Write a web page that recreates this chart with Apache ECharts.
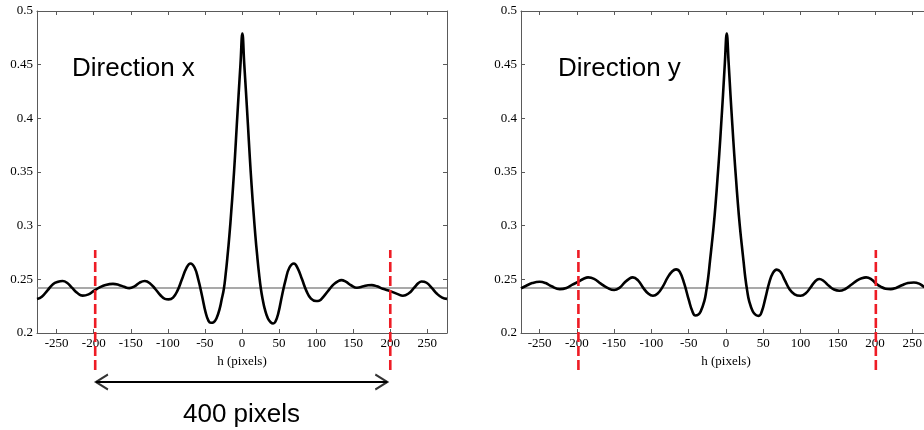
<!DOCTYPE html>
<html>
<head>
<meta charset="utf-8">
<script src="https://cdn.jsdelivr.net/npm/echarts@6/dist/echarts.min.js"></script>
<style>html,body{margin:0;padding:0;background:#fff}#c{width:924px;height:430px}</style>
</head>
<body>
<div id="c"></div>
<script>
// ---- data ----
const xTicks = [-250, -200, -150, -100, -50, 0, 50, 100, 150, 200, 250];
const yMin = 0.2, yMax = 0.5, yStep = 0.05;
const xRangeX = [-276.5, 276.5];
const xRangeY = [-275, 275];
const baseLevel = 0.242;
// Direction x curve: [h, value]
const curveX = [[-276.5,0.2316],[-270,0.2338],[-262,0.2400],[-255,0.2455],[-248,0.2478],[-242,0.2484],[-236,0.2468],[-229,0.2420],[-222,0.2372],[-215,0.2348],[-207,0.2360],[-200,0.2392],[-192,0.2425],[-184,0.2448],[-174,0.2458],[-166,0.2448],[-159,0.2430],[-152,0.2418],[-145,0.2435],[-138,0.2470],[-131,0.2484],[-124,0.2462],[-117,0.2410],[-110,0.2352],[-104,0.2318],[-99,0.2313],[-93,0.2330],[-87,0.2395],[-81,0.2500],[-75,0.2605],[-69.5,0.2648],[-64,0.2610],[-59,0.2500],[-54,0.2350],[-49,0.2190],[-45,0.2110],[-42,0.2095],[-38.5,0.2100],[-34.5,0.2135],[-30,0.2230],[-27.5,0.2310],[-24.5,0.2410],[-22,0.2550],[-19.5,0.2720],[-17,0.2910],[-14.5,0.3130],[-12,0.3370],[-9.5,0.3640],[-7,0.3940],[-4.5,0.4230],[-2,0.4510],[0.5,0.4790],[3,0.4510],[5.5,0.4230],[8,0.3940],[10.5,0.3640],[13,0.3370],[15.5,0.3130],[18,0.2910],[20.5,0.2720],[23,0.2550],[25.5,0.2410],[28,0.2310],[30.5,0.2230],[35,0.2135],[39,0.2098],[42,0.2089],[45,0.2105],[49,0.2185],[54,0.2350],[59,0.2500],[64,0.2610],[70,0.2648],[75,0.2605],[81,0.2500],[87,0.2390],[93,0.2320],[100,0.2298],[104,0.2300],[110,0.2340],[117,0.2400],[124,0.2455],[130,0.2484],[134,0.2493],[140,0.2478],[147,0.2445],[155,0.2422],[164,0.2435],[170,0.2445],[175,0.2446],[182,0.2435],[190,0.2412],[200,0.2390],[210,0.2362],[217,0.2347],[225,0.2370],[232,0.2420],[238,0.2465],[242,0.2480],[249,0.2468],[256,0.2420],[263,0.2365],[270,0.2330],[276.5,0.2318]];
// Direction y curve: [h, value]
const curveY = [[-275,0.2415],[-268,0.2440],[-260,0.2465],[-250,0.2477],[-242,0.2465],[-234,0.2435],[-223,0.2409],[-214,0.2420],[-206,0.2450],[-198,0.2478],[-191,0.2505],[-185,0.2518],[-177,0.2505],[-168,0.2460],[-159,0.2420],[-150,0.2400],[-143,0.2420],[-136,0.2470],[-130,0.2505],[-125,0.2518],[-118,0.2490],[-111,0.2420],[-104,0.2365],[-98,0.2347],[-92,0.2365],[-85,0.2430],[-78,0.2520],[-72,0.2575],[-67,0.2593],[-62,0.2570],[-56,0.2460],[-50,0.2310],[-45,0.2200],[-41,0.2163],[-37,0.2172],[-34,0.2200],[-29,0.2300],[-26.5,0.2390],[-24,0.2510],[-21.5,0.2670],[-19,0.2830],[-16.5,0.3000],[-14,0.3200],[-11.5,0.3430],[-9,0.3670],[-6.5,0.3940],[-4,0.4220],[-1.5,0.4520],[1,0.4790],[3.5,0.4520],[6,0.4220],[8.5,0.3940],[11,0.3670],[13.5,0.3430],[16,0.3200],[18.5,0.3000],[21,0.2830],[23.5,0.2670],[26,0.2510],[28.5,0.2390],[31,0.2300],[36,0.2200],[40,0.2168],[44,0.2160],[48,0.2200],[53,0.2330],[58,0.2470],[63,0.2560],[68,0.2590],[73,0.2570],[79,0.2490],[85,0.2410],[92,0.2360],[100,0.2347],[107,0.2370],[114,0.2430],[120,0.2485],[125,0.2503],[131,0.2485],[138,0.2440],[145,0.2405],[152,0.2393],[160,0.2410],[168,0.2450],[176,0.2490],[182,0.2510],[188,0.2518],[195,0.2500],[201,0.2462],[208,0.2430],[214,0.2413],[221,0.2409],[228,0.2420],[236,0.2445],[244,0.2465],[252,0.2471],[259,0.2460],[266,0.2430],[272,0.2410],[275,0.2405]];
// red dashed markers (h positions) and their vertical span in overlay units (0 = bottom, 1 = top)
const redX = [-198, 200];
const redY = [-198, 201];
const redSpan = [0.2, 1];
// double arrow under the left chart
const arrowEnds = [-197, 196];
const arrowLevel = 0.12;
const titles = ['Direction x', 'Direction y', '400 pixels'];
const xName = 'h (pixels)';

// ---- chart ----
const serif = 'Liberation Serif, Times New Roman, serif';
const sans = 'Liberation Sans, Arial, sans-serif';
const frame = '#5a5a5a';

function mainX(gi, range, bottom) {
  return {
    gridIndex: gi, type: 'value', min: range[0], max: range[1], position: bottom ? 'bottom' : 'top',
    name: bottom ? xName : '', nameLocation: 'middle', nameGap: 19,
    nameTextStyle: {fontFamily: serif, fontSize: 13, color: '#000'},
    axisLine: {show: true, onZero: false, lineStyle: {color: frame, width: 1}},
    axisTick: {show: true, inside: true, length: 4, customValues: xTicks, lineStyle: {color: frame}},
    axisLabel: {show: bottom, customValues: xTicks, margin: 4, fontFamily: serif, fontSize: 13, color: '#000'},
    splitLine: {show: false}
  };
}
function mainY(gi, left) {
  return {
    gridIndex: gi, type: 'value', min: yMin, max: yMax, interval: yStep, position: left ? 'left' : 'right',
    axisLine: {show: true, onZero: false, lineStyle: {color: frame, width: 1}},
    axisTick: {show: true, inside: true, length: 4, lineStyle: {color: frame}},
    axisLabel: {show: left, margin: 4, fontFamily: serif, fontSize: 13, color: '#000',
      formatter: v => String(parseFloat(v.toFixed(2)))},
    splitLine: {show: false}
  };
}
function hiddenX(gi, range) {
  return {gridIndex: gi, type: 'value', min: range[0], max: range[1], show: false};
}
function hiddenY(gi) {
  return {gridIndex: gi, type: 'value', min: 0, max: 1, show: false};
}

const chevL = 'path://M12,0 L0,7.5 L12,15';
const chevR = 'path://M0,0 L12,7.5 L0,15';

const series = [
  {type: 'line', xAxisIndex: 0, yAxisIndex: 0, data: [[xRangeX[0], baseLevel], [xRangeX[1], baseLevel]],
    showSymbol: false, silent: true, lineStyle: {color: '#8c8c8c', width: 1.5}, z: 2},
  {type: 'line', xAxisIndex: 0, yAxisIndex: 0, data: curveX, smooth: 0.45, showSymbol: false,
    lineStyle: {color: '#000', width: 2.6}, z: 3},
  {type: 'line', xAxisIndex: 3, yAxisIndex: 3, data: [[xRangeY[0], baseLevel], [xRangeY[1], baseLevel]],
    showSymbol: false, silent: true, lineStyle: {color: '#8c8c8c', width: 1.5}, z: 2},
  {type: 'line', xAxisIndex: 3, yAxisIndex: 3, data: curveY, smooth: 0.45, showSymbol: false,
    lineStyle: {color: '#000', width: 2.6}, z: 3}
];
redX.forEach(h => series.push({type: 'line', xAxisIndex: 2, yAxisIndex: 2, clip: false,
  data: [[h, redSpan[0]], [h, redSpan[1]]], showSymbol: false,
  lineStyle: {color: '#ee1c25', width: 2.6, type: [10, 4]}, z: 5}));
redY.forEach(h => series.push({type: 'line', xAxisIndex: 5, yAxisIndex: 5, clip: false,
  data: [[h, redSpan[0]], [h, redSpan[1]]], showSymbol: false,
  lineStyle: {color: '#ee1c25', width: 2.6, type: [10, 4]}, z: 5}));
series.push({type: 'line', xAxisIndex: 2, yAxisIndex: 2, clip: false,
  data: [[arrowEnds[0], arrowLevel], [arrowEnds[1], arrowLevel]], showSymbol: false,
  lineStyle: {color: '#000', width: 2}, z: 5});
series.push({type: 'scatter', xAxisIndex: 2, yAxisIndex: 2, clip: false,
  data: [
    {value: [arrowEnds[0], arrowLevel], symbol: chevL, symbolOffset: [6, 0]},
    {value: [arrowEnds[1], arrowLevel], symbol: chevR, symbolOffset: [-6, 0]}
  ],
  symbolSize: [12, 15],
  itemStyle: {color: 'none', borderColor: '#000', borderWidth: 2}, z: 6});

const option = {
  backgroundColor: '#fff',
  animation: false,
  title: [
    {text: titles[0], left: 72, top: 56, padding: 0, textStyle: {fontFamily: sans, fontSize: 26, fontWeight: 'normal', color: '#000'}},
    {text: titles[1], left: 558, top: 56, padding: 0, textStyle: {fontFamily: sans, fontSize: 26, fontWeight: 'normal', color: '#000'}},
    {text: titles[2], left: 183, top: 402, padding: 0, textStyle: {fontFamily: sans, fontSize: 26, fontWeight: 'normal', color: '#000'}}
  ],
  grid: [
    {left: 37, top: 11, width: 410, height: 322, outerBoundsMode: 'none'},
    {left: 37, top: 250, width: 410, height: 150, outerBoundsMode: 'none'},
    {left: 521, top: 11, width: 410, height: 322, outerBoundsMode: 'none'},
    {left: 521, top: 250, width: 410, height: 150, outerBoundsMode: 'none'}
  ],
  xAxis: [
    mainX(0, xRangeX, true), mainX(0, xRangeX, false), hiddenX(1, xRangeX),
    mainX(2, xRangeY, true), mainX(2, xRangeY, false), hiddenX(3, xRangeY)
  ],
  yAxis: [
    mainY(0, true), mainY(0, false), hiddenY(1),
    mainY(2, true), mainY(2, false), hiddenY(3)
  ],
  series: series
};
const chart = echarts.init(document.getElementById('c'), null, {renderer: 'canvas'});
chart.setOption(option);
</script>
</body>
</html>
